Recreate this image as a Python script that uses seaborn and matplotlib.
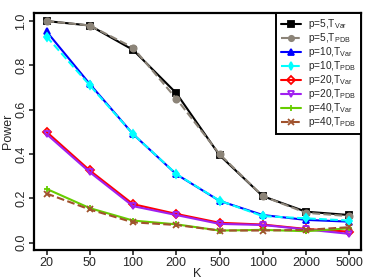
import matplotlib
matplotlib.use('Agg')
import matplotlib.pyplot as plt
import seaborn as sns
import pandas as pd

# valores
K_labels = ['20', '50', '100', '200', '500', '1000', '2000', '5000']
p5_var = [1.00, 0.98, 0.87, 0.675, 0.395, 0.21, 0.14, 0.125]
p5_pdb = [1.00, 0.98, 0.88, 0.650, 0.400, 0.21, 0.135, 0.12]
p10_var = [0.953, 0.716, 0.49, 0.309, 0.189, 0.125, 0.103, 0.095]
p10_pdb = [0.93, 0.71, 0.49, 0.31, 0.19, 0.12, 0.11, 0.10]
p20_var = [0.50, 0.326, 0.174, 0.13, 0.09, 0.082, 0.062, 0.05]
p20_pdb = [0.49, 0.318, 0.165, 0.125, 0.085, 0.08, 0.06, 0.04]
p40_var = [0.243, 0.156, 0.10, 0.083, 0.055, 0.058, 0.052, 0.065]
p40_pdb = [0.222, 0.150, 0.092, 0.08, 0.055, 0.055, 0.058, 0.07]

series = [
    (r'p=5,T$_{Var}$', p5_var, 'black', 's', '-'),
    (r'p=5,T$_{PDB}$', p5_pdb, '#8c8478', 'o', '--'),
    (r'p=10,T$_{Var}$', p10_var, 'blue', '^', '-'),
    (r'p=10,T$_{PDB}$', p10_pdb, 'cyan', 'd', '--'),
    (r'p=20,T$_{Var}$', p20_var, 'red', 'D', '-'),
    (r'p=20,T$_{PDB}$', p20_pdb, '#a020f0', 'v', '-'),
    (r'p=40,T$_{Var}$', p40_var, '#66cd00', '+', '-'),
    (r'p=40,T$_{PDB}$', p40_pdb, '#a0522d', 'x', '--'),
]

sns.set_style('ticks')
plt.rcParams['font.family'] = ['Liberation Sans', 'DejaVu Sans']
plt.rcParams['mathtext.default'] = 'regular'

fig = plt.figure(figsize=(3.74, 2.8), dpi=100)
ax = fig.add_axes([0.091, 0.107, 0.874, 0.847])

pos = list(range(len(K_labels)))
for nome, vals, cor, marc, estilo in series:
    df = pd.DataFrame({'pos': pos, 'power': vals})
    sns.lineplot(data=df, x='pos', y='power', ax=ax, color=cor, linestyle=estilo,
                 linewidth=1.5, marker=marc, markersize=4.5,
                 markerfacecolor='none' if marc in ('v', 'D') else cor,
                 markeredgecolor=cor, markeredgewidth=1.3, label=nome)

ax.set_xlim(-0.29, 7.27)
ax.set_ylim(-0.033, 1.037)
ax.set_xticks(pos)
ax.set_xticklabels(K_labels)
ax.set_yticks([0, 0.2, 0.4, 0.6, 0.8, 1.0])
ax.set_yticklabels(['0.0', '0.2', '0.4', '0.6', '0.8', '1.0'], rotation=90, va='center')
ax.tick_params(labelsize=9, length=3.5, width=1.2, pad=1.5)
ax.set_xlabel('K', fontsize=9, labelpad=-1)
ax.set_ylabel('Power', fontsize=9, labelpad=1)
for s in ax.spines.values():
    s.set_visible(True)
    s.set_linewidth(1.6)
    s.set_color('black')

leg = ax.legend(loc='upper right', fontsize=7.3, frameon=True, fancybox=False,
                borderaxespad=0, handlelength=2.0, labelspacing=0.0,
                borderpad=0.45, handletextpad=0.7, markerscale=0.85)
leg.get_frame().set_edgecolor('black')
leg.get_frame().set_linewidth(1.4)
leg.get_frame().set_alpha(1)

fig.savefig('out.png', dpi=100)
